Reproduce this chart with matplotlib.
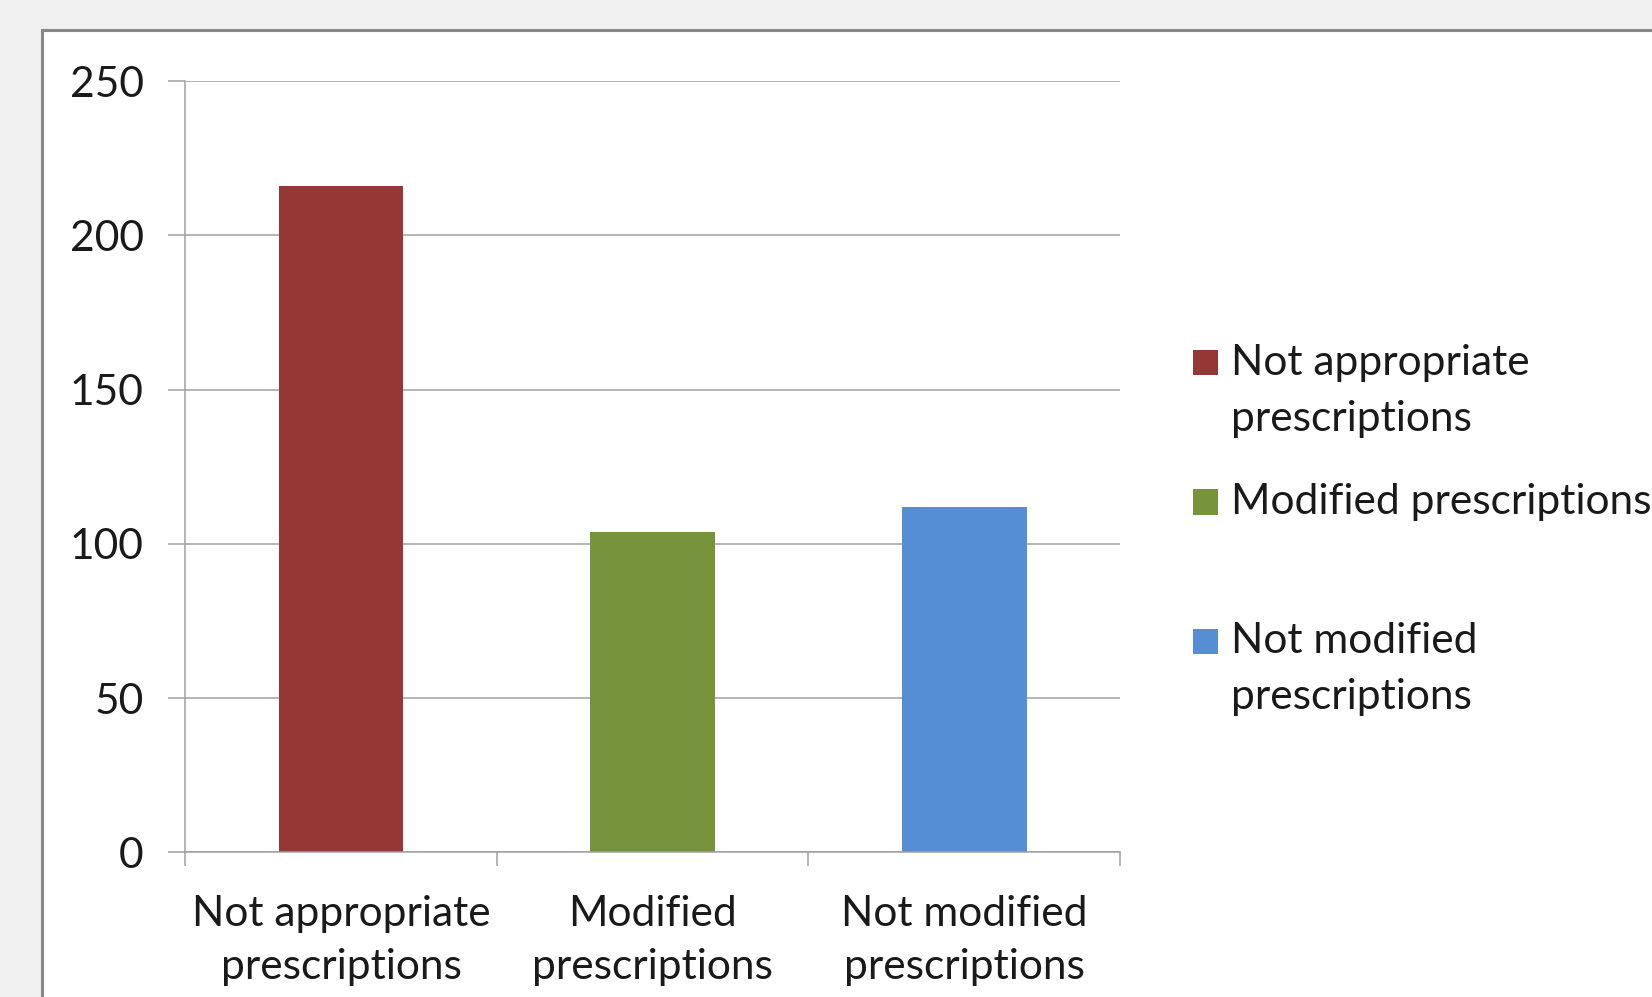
import matplotlib
matplotlib.use("Agg")
import matplotlib.pyplot as plt
from matplotlib.patches import Rectangle

# data
categories = ["Not appropriate\nprescriptions", "Modified\nprescriptions", "Not modified\nprescriptions"]
legend_labels = ["Not appropriate\nprescriptions", "Modified prescriptions", "Not modified\nprescriptions"]
values = [216, 104, 112]
colors = ["#953735", "#77933C", "#558ED5"]
y_ticks = [0, 50, 100, 150, 200, 250]

W, H = 1652, 997
FS = 30.6
TEXT = "#1a1a1a"
GRID = "#a0a0a0"
plt.rcParams["font.family"] = ["Lato", "DejaVu Sans"]

fig = plt.figure(figsize=(W / 100, H / 100), dpi=100, facecolor="#f0f0f0")

# white chart frame (runs off right and bottom edges)
fig.patches.append(Rectangle((42 / W, -0.2), 2, 1.2 - 29.5 / H, transform=fig.transFigure,
                             facecolor="white", edgecolor="#888888", lw=2.2, zorder=-5))

ax = fig.add_axes([185.4 / W, 1 - 852.4 / H, (1120 - 185.4) / W, (852.4 - 81.1) / H])
ax.set_facecolor("none")
x = list(range(len(values)))
ax.bar(x, values, width=0.4, color=colors, zorder=2)

ax.set_xlim(-0.5, len(values) - 0.5)
ax.set_ylim(0, 250)
ax.set_yticks(y_ticks)
ax.yaxis.grid(True, color=GRID, lw=1.1)
ax.set_axisbelow(True)

for s in ["top", "right"]:
    ax.spines[s].set_visible(False)
for s in ["left", "bottom"]:
    ax.spines[s].set_color(GRID)
    ax.spines[s].set_linewidth(1.1)

# boundaries as major ticks, labels on minor ticks at bar centres
ax.set_xticks([i - 0.5 for i in range(len(values) + 1)])
ax.set_xticklabels([])
ax.set_xticks(x, minor=True)
ax.set_xticklabels(categories, minor=True, fontsize=FS, color=TEXT, linespacing=1.47)
ax.tick_params(axis="x", which="major", length=10, width=1.1, color=GRID)
ax.tick_params(axis="x", which="minor", length=0, pad=31)
ax.tick_params(axis="y", length=12, width=1.1, color=GRID, pad=18, labelsize=FS, labelcolor=TEXT)

# legend drawn by hand to match the spacing of the original
sq = 25
y0 = 363
for i, (lab, c) in enumerate(zip(legend_labels, colors)):
    yc = y0 + i * 139
    fig.patches.append(Rectangle((1193 / W, 1 - (yc + sq / 2) / H), sq / W, sq / H,
                                 transform=fig.transFigure, facecolor=c, edgecolor="none"))
    for j, line in enumerate(lab.split("\n")):
        fig.text(1231 / W, 1 - (yc + j * 56) / H, line, fontsize=FS, color=TEXT,
                 ha="left", va="center")

fig.savefig("out.png", dpi=100, facecolor=fig.get_facecolor())
